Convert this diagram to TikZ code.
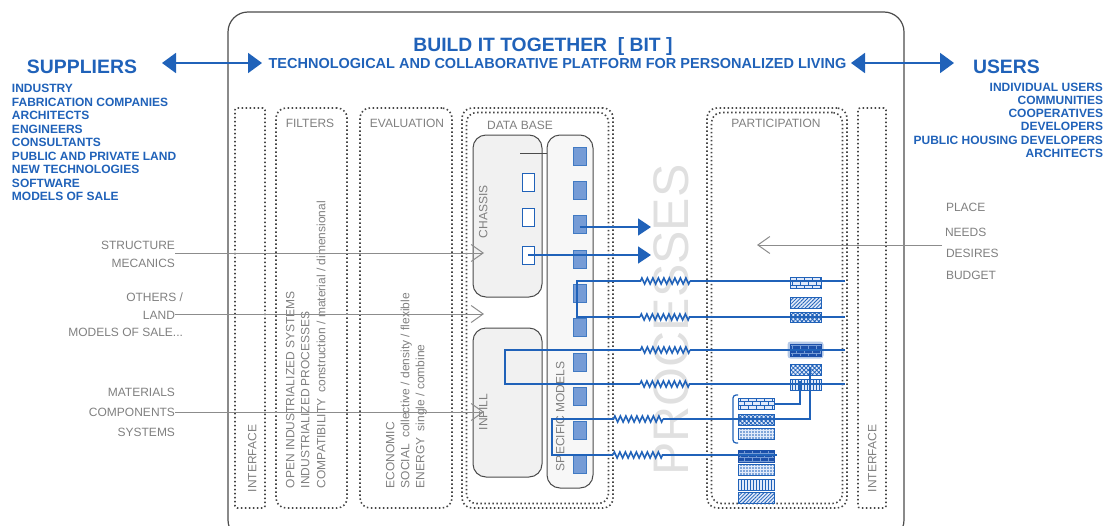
\documentclass[tikz,border=0pt]{standalone}
\usepackage{fontspec}
\setmainfont{Liberation Sans}
\usetikzlibrary{arrows.meta,patterns,patterns.meta,decorations.pathmorphing}
\definecolor{bitblue}{RGB}{32,98,185}
\definecolor{lblue}{RGB}{118,156,214}
\definecolor{pblue}{RGB}{225,234,250}
\definecolor{dblue}{RGB}{28,80,170}
\definecolor{txtgray}{RGB}{128,128,128}
\definecolor{lingray}{RGB}{140,140,140}
\definecolor{boxgray}{RGB}{75,75,75}
\definecolor{dotgray}{RGB}{70,70,70}
\definecolor{procgray}{RGB}{224,224,224}
\pgfdeclarepatternformonly{minibricks}{\pgfqpoint{-0.5pt}{-0.5pt}}{\pgfqpoint{8.5pt}{8.5pt}}{\pgfqpoint{8pt}{8pt}}{%
  \pgfsetlinewidth{0.7pt}%
  \pgfpathmoveto{\pgfqpoint{0pt}{0pt}}\pgfpathlineto{\pgfqpoint{8pt}{0pt}}%
  \pgfpathmoveto{\pgfqpoint{0pt}{4pt}}\pgfpathlineto{\pgfqpoint{8pt}{4pt}}%
  \pgfpathmoveto{\pgfqpoint{0pt}{0pt}}\pgfpathlineto{\pgfqpoint{0pt}{4pt}}%
  \pgfpathmoveto{\pgfqpoint{4pt}{4pt}}\pgfpathlineto{\pgfqpoint{4pt}{8pt}}%
  \pgfusepath{stroke}}
\tikzset{
  lbl/.style={inner sep=0pt, outer sep=0pt},
  bluebig/.style={lbl, text=bitblue, font=\bfseries\fontsize{19.4}{22}\selectfont},
  bluelist/.style={lbl, text=bitblue, font=\bfseries\fontsize{12}{14}\selectfont},
  graytxt/.style={lbl, text=txtgray, font=\fontsize{12}{14}\selectfont},
  vtxt/.style={graytxt, rotate=90, anchor=base west},
  column/.style={draw=dotgray, line width=1.6pt, dash pattern=on 1.5pt off 2.5pt, rounded corners=10pt, inner sep=0pt},
  dbbox/.style={draw=boxgray, line width=1pt, rounded corners=13pt, fill=gray!11, inner sep=0pt},
  specrect/.style={draw=bitblue!85, fill=lblue, line width=0.6pt, minimum width=13pt, minimum height=18pt, inner sep=0pt},
  hollow/.style={draw=bitblue, fill=white, line width=0.8pt, minimum width=12pt, minimum height=18pt, inner sep=0pt},
  blueline/.style={draw=bitblue, line width=1.6pt},
  spring/.style={blueline, decorate, decoration={zigzag, segment length=5.5pt, amplitude=3pt}},
  grayline/.style={draw=lingray, line width=1pt},
  barb/.style={-{Straight Barb[length=12pt,width=17pt]}},
  bigarrow/.style={draw=bitblue, line width=2pt, {Triangle[length=14pt,width=20pt]}-{Triangle[length=14pt,width=20pt]}},
  smallarrow/.style={draw=bitblue, line width=1.8pt, -{Triangle[length=13pt,width=17pt]}},
  swatch/.style={draw=bitblue, line width=0.7pt, minimum height=11pt, inner sep=0pt, preaction={fill=pblue}, pattern color=bitblue},
  darkswatch/.style={draw=dblue, line width=0.7pt, minimum height=11pt, inner sep=0pt, preaction={fill=dblue}, pattern color=lblue},
  pbricks/.style={pattern=minibricks},
  pdiag/.style={pattern={Lines[angle=45,distance=2.6pt,line width=0.8pt]}},
  pcross/.style={pattern={Hatch[angle=45,distance=3pt,line width=0.8pt]}},
  pdots/.style={pattern={Dots[distance=3pt,radius=0.8pt]}},
  pvert/.style={pattern={Lines[angle=90,distance=3pt,line width=0.8pt]}},
}
\begin{document}
\begin{tikzpicture}[x=1pt,y=-1pt]
\useasboundingbox (0,0) rectangle (1106,525);
% main frame
\draw[draw=boxgray, line width=1.2pt, rounded corners=20pt] (228,12) rectangle (904,540);
% titles
\node[lbl, text=bitblue, font=\bfseries\fontsize{19.3}{22}\selectfont, anchor=base] (title) at (543,51.5) {BUILD IT TOGETHER\ \ [ BIT ]};
\node[lbl, text=bitblue, font=\bfseries\fontsize{14.5}{17}\selectfont, anchor=base] (subtitle) at (557.5,68.3) {TECHNOLOGICAL AND COLLABORATIVE PLATFORM FOR PERSONALIZED LIVING};
\node[bluebig, anchor=base west] (suppliers) at (27,73.3) {SUPPLIERS};
\node[bluebig, anchor=base west] (users) at (973,73.3) {USERS};
\coordinate (la) at (162,63); \coordinate (lb) at (262,63);
\coordinate (ra) at (851,63); \coordinate (rb) at (954,63);
\draw[bigarrow] (la) -- (lb);
\draw[bigarrow] (ra) -- (rb);
% lists
\foreach \t [count=\i from 0] in {INDUSTRY, FABRICATION COMPANIES, ARCHITECTS, ENGINEERS, CONSULTANTS, PUBLIC AND PRIVATE LAND, NEW TECHNOLOGIES, SOFTWARE, MODELS OF SALE}
  \node[bluelist, anchor=base west] (sup\i) at (12,{92.5+13.56*\i}) {\t};
\foreach \t [count=\i from 0] in {INDIVIDUAL USERS, COMMUNITIES, COOPERATIVES, DEVELOPERS, PUBLIC HOUSING DEVELOPERS, ARCHITECTS}
  \node[bluelist, anchor=base east] (usr\i) at (1103,{91.3+13.2*\i}) {\t};
% columns
\node[column, rounded corners=2pt, minimum width=30pt, minimum height=400pt] (ifL) at (250,308) {};
\node[column, minimum width=71pt, minimum height=400pt] (filt) at (311.5,308) {};
\node[column, minimum width=92pt, minimum height=400pt] (eval) at (406,308) {};
\node[column, minimum width=151pt, minimum height=400pt] (db) at (537.5,308) {};
\node[column, minimum width=142pt, minimum height=391pt] (dbin) at (537.5,308) {};
\node[column, minimum width=140pt, minimum height=400pt] (part) at (777,308) {};
\node[column, minimum width=131pt, minimum height=391pt] (partin) at (777,308) {};
\node[column, rounded corners=2pt, minimum width=28pt, minimum height=400pt] (ifR) at (872,308) {};
% column labels
\node[graytxt, anchor=base] (lfilt) at (310,127.5) {FILTERS};
\node[graytxt, anchor=base] (leval) at (407,127) {EVALUATION};
\node[graytxt, anchor=base] (ldb) at (520,129) {DATA BASE};
\node[graytxt, anchor=base] (lpart) at (776,127) {PARTICIPATION};
\node[vtxt] (lifL) at (256.3,492) {INTERFACE};
\node[vtxt] (lifR) at (876.3,492) {INTERFACE};
\node[vtxt] (f1) at (294.3,488) {OPEN INDUSTRIALIZED SYSTEMS};
\node[vtxt] (f2) at (309.3,488) {INDUSTRIALIZED PROCESSES};
\node[vtxt] (f3) at (325.3,488) {COMPATIBILITY\hspace{0.5em}construction / material / dimensional};
\node[vtxt] (e1) at (394.3,488) {ECONOMIC};
\node[vtxt] (e2) at (409.3,488) {SOCIAL\hspace{0.5em}collective / density / flexible};
\node[vtxt] (e3) at (424.3,488) {ENERGY\hspace{0.5em}single / combine};
% processes watermark
\node[lbl, text=procgray, font=\fontsize{50}{55}\selectfont, rotate=90] (proc) at (671,320) {PROCESSES};
% data base boxes
\node[dbbox, minimum width=69pt, minimum height=162pt] (chassis) at (507.5,216) {};
\node[dbbox, minimum width=69pt, minimum height=149pt] (infill) at (507.5,402.5) {};
\node[dbbox, fill=gray!6, minimum width=46pt, minimum height=353pt] (spec) at (570,311.5) {};
\node[vtxt] (lch) at (487.3,238) {CHASSIS};
\node[vtxt] (lin) at (487.3,430) {INFILL};
\node[vtxt] (lsp) at (564.3,471) {SPECIFIC MODELS};
\foreach \i in {1,...,10}
  \node[specrect] (s\i) at (579.5,{156+34.3*(\i-1)}) {};
\node[hollow] (h1) at (528,182) {};
\node[hollow] (h2) at (528,217) {};
\node[hollow] (h3) at (528,255) {};
\coordinate (k1) at (520,153); \coordinate (k2) at (547,153);
\draw[draw=boxgray, line width=1pt] (k1) -- (k2);
% left inputs
\node[graytxt, anchor=base east] (t1) at (175,249.3) {STRUCTURE};
\node[graytxt, anchor=base east] (t2) at (175,267.3) {MECANICS};
\node[graytxt, anchor=base east] (t3) at (183,301.3) {OTHERS /};
\node[graytxt, anchor=base east] (t4) at (175,319) {LAND};
\node[graytxt, anchor=base east] (t5) at (183,336.3) {MODELS OF SALE...};
\node[graytxt, anchor=base east] (t6) at (175,396.5) {MATERIALS};
\node[graytxt, anchor=base east] (t7) at (175,416) {COMPONENTS};
\node[graytxt, anchor=base east] (t8) at (175,436) {SYSTEMS};
\coordinate (in1) at (175,253); \coordinate (tip1) at (484,253);
\coordinate (in2) at (175,314); \coordinate (tip2) at (484,314);
\coordinate (in3) at (175,412); \coordinate (tip3) at (484,412);
\draw[grayline, barb] (in1) -- (tip1);
\draw[grayline, barb] (in2) -- (tip2);
\draw[grayline, barb] (in3) -- (tip3);
% right inputs
\node[graytxt, anchor=base west] (p1) at (946,211.6) {PLACE};
\node[graytxt, anchor=base west] (p2) at (945,236) {NEEDS};
\node[graytxt, anchor=base west] (p3) at (946,257) {DESIRES};
\node[graytxt, anchor=base west] (p4) at (946,279.3) {BUDGET};
\coordinate (in4) at (942,245); \coordinate (tip4) at (757,245);
\draw[grayline, barb] (in4) -- (tip4);
% blue arrows
\coordinate (a1) at (651,227); \coordinate (a2) at (651,255);
\draw[smallarrow] (579.5,227) -- (a1);
\draw[smallarrow] (h3.center) -- (a2);
% swatches right group
\node[swatch, pbricks, minimum width=31pt] (r1) at (805.5,282.5) {};
\node[swatch, pdiag, minimum width=31pt] (r2) at (805.5,302.5) {};
\node[swatch, pcross, minimum width=31pt, minimum height=10pt] (r3) at (805.5,317) {};
\node[draw=none, fill=lblue!55, rounded corners=3pt, minimum width=36pt, minimum height=17pt, inner sep=0pt] (r4h) at (805.5,350) {};
\node[darkswatch, pbricks, minimum width=31pt, minimum height=12pt] (r4) at (805.5,350) {};
\node[swatch, pcross, minimum width=31pt] (r5) at (805.5,370) {};
\node[swatch, pvert, minimum width=31pt] (r6) at (805.5,384.5) {};
% swatches left group
\node[swatch, pbricks, minimum width=36pt] (q1) at (756,404) {};
\node[swatch, pcross, minimum width=36pt] (q2) at (756,419.5) {};
\node[swatch, pdots, minimum width=36pt] (q3) at (756,434) {};
\node[darkswatch, pbricks, minimum width=36pt, minimum height=12pt] (q4) at (756,456) {};
\node[swatch, pdots, minimum width=36pt] (q5) at (756,469.5) {};
\node[swatch, pvert, minimum width=36pt] (q6) at (756,484.5) {};
\node[swatch, pdiag, minimum width=36pt] (q7) at (756,498) {};
\draw[blueline, line width=1.2pt, rounded corners=3pt] (738,395) -- (733,395) -- (733,443) -- (738,443);
% blue process lines with springs
\coordinate (e1) at (845,281); \coordinate (e2) at (845,317);
\coordinate (e3) at (845,350); \coordinate (e4) at (845,384);
\draw[blueline] (e1) -- (690,281); \draw[spring] (690,281) -- (640,281);
\draw[blueline] (640,281) -- (577,281) -- (577,317) -- (640,317);
\draw[spring] (640,317) -- (690,317); \draw[blueline] (690,317) -- (e2);
\draw[blueline] (e3) -- (690,350); \draw[spring] (690,350) -- (640,350);
\draw[blueline] (640,350) -- (505,350) -- (505,384) -- (640,384);
\draw[spring] (640,384) -- (690,384); \draw[blueline] (690,384) -- (e4);
\coordinate (e5) at (810,367); \coordinate (e6) at (777,455);
\draw[blueline] (e5) -- (810,419) -- (663,419); \draw[spring] (663,419) -- (613,419);
\draw[blueline] (613,419) -- (552,419) -- (552,455) -- (613,455);
\draw[spring] (613,455) -- (663,455); \draw[blueline] (663,455) -- (e6);
\draw[blueline, line width=1.4pt] (q1.east) -- (800,404) -- (800,381);
\end{tikzpicture}
\end{document}
